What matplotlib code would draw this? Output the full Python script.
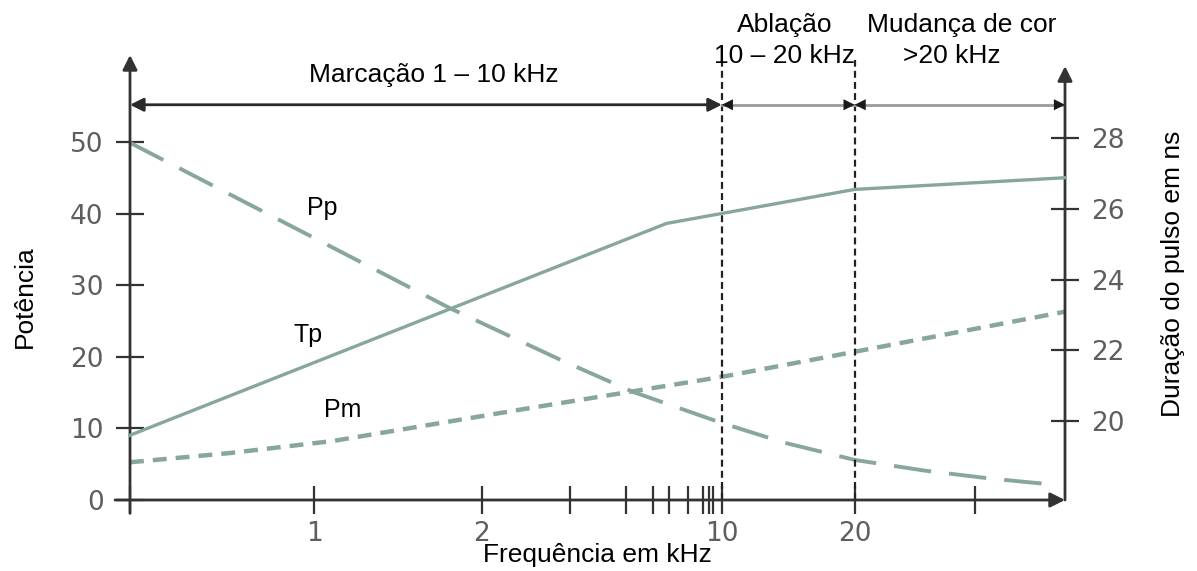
import matplotlib.pyplot as plt

plt.rcParams['font.family'] = ['Liberation Sans', 'DejaVu Sans']
plt.rcParams['lines.scale_dashes'] = False

# schematic frequency axis: position 0..100 along the axis
tick_pos = [19.7, 37.6, 63.3, 77.5]
tick_labels = ['1', '2', '10', '20']
minor_pos = [0, 47.1, 53.0, 55.9, 57.7, 59.7, 61.3, 61.9, 62.4, 90.4]

# Pp - peak power (left axis)
pp_x = [0, 34.2, 46.0, 53.8, 63.3, 70.0, 77.5, 85.0, 92.0, 99.1]
pp_y = [49.9, 26.8, 19.6, 15.1, 10.75, 8.0, 5.6, 4.1, 3.0, 2.1]

# Pm - mean power (left axis)
pm_x = [0, 10.7, 21.7, 42.8, 63.3, 77.5, 100]
pm_y = [5.27, 6.56, 8.24, 12.85, 17.2, 20.7, 26.3]

# Tp - pulse duration in ns (right axis)
tp_x = [0, 57.4, 63.3, 77.5, 100]
tp_y = [19.6, 25.59, 25.87, 26.55, 26.88]

left_ticks = [0, 10, 20, 30, 40, 50]
right_ticks = [20, 22, 24, 26, 28]

zone_edges = [0, 63.3, 77.5, 100]

curve_color = '#87a69d'
axis_color = '#333333'
tick_color = '#5e5e5e'
tick_font = dict(family='DejaVu Sans', size=19)

fig = plt.figure(figsize=(11.97, 5.71), dpi=100)
ax = fig.add_axes([130 / 1197, 71 / 571, 935 / 1197, 445 / 571])
ax2 = ax.twinx()

ax.set_xlim(0, 100)
ax.set_ylim(0, 62.15)
ax2.set_ylim(17.77, 30.35)

for a in (ax, ax2):
    for s in a.spines.values():
        s.set_visible(False)

ax.set_xticks(tick_pos, tick_labels, fontdict=tick_font)
ax.set_xticks(minor_pos, minor=True)
ax.set_yticks(left_ticks, [str(v) for v in left_ticks], fontdict=tick_font)
ax2.set_yticks(right_ticks, [str(v) for v in right_ticks], fontdict=tick_font)

ax.tick_params(axis='both', which='both', direction='inout', length=20, width=1.6,
               color=axis_color, labelcolor=tick_color)
ax.tick_params(axis='x', pad=5)
ax.tick_params(axis='y', pad=9)
ax2.tick_params(axis='y', direction='inout', length=20, width=1.6,
                color=axis_color, labelcolor=tick_color, pad=9)

# axis lines with arrows
arrow_kw = dict(arrowstyle='-|>', color=axis_color, lw=2, mutation_scale=22,
                shrinkA=0, shrinkB=0)
ax.annotate('', xy=(0, 1.0), xytext=(0, -0.03), xycoords='axes fraction',
            arrowprops=arrow_kw)
ax.annotate('', xy=(1.0, 0), xytext=(-0.016, 0), xycoords='axes fraction',
            arrowprops=arrow_kw)
ax.annotate('', xy=(1.0, 0.975), xytext=(1.0, 0), xycoords='axes fraction',
            arrowprops=arrow_kw)

# curves
ax.plot(pp_x, pp_y, color=curve_color, lw=2.8, dashes=(27, 13), clip_on=False)
ax.plot(pm_x, pm_y, color=curve_color, lw=3.2, dashes=(10, 6.5), clip_on=False)
ax2.plot(tp_x, tp_y, color=curve_color, lw=2.4, clip_on=False)

ax.text(20.6, 40.8, 'Pp', fontsize=18, ha='center', va='center')
ax.text(19.0, 23.0, 'Tp', fontsize=18, ha='center', va='center')
ax.text(22.8, 12.6, 'Pm', fontsize=18, ha='center', va='center')

# zone boundaries
for xe in zone_edges[1:3]:
    ax.plot([xe, xe], [0, 61.5], color='#222222', lw=1.6, dashes=(5, 3))

# zone arrows
arrow_y = 55.2
ax.annotate('', xy=(zone_edges[1], arrow_y), xytext=(zone_edges[0], arrow_y),
            arrowprops=dict(arrowstyle='<|-|>', color='#2a2a2a', lw=2,
                            mutation_scale=20, shrinkA=0, shrinkB=0))
for x0, x1 in zip(zone_edges[1:3], zone_edges[2:4]):
    ax.plot([x0, x1], [arrow_y, arrow_y], color='#9a9a9a', lw=2)
    for xa, xb in ((x0 + 2.5, x0), (x1 - 2.5, x1)):
        ax.annotate('', xy=(xb, arrow_y), xytext=(xa, arrow_y),
                    arrowprops=dict(arrowstyle='-|>', color='#1a1a1a', lw=0,
                                    mutation_scale=20, shrinkA=0, shrinkB=0))

ax.text(32.5, 58.4, 'Marcação 1 – 10 kHz', fontsize=19, ha='center', va='baseline')
ax.text(70.0, 65.3, 'Ablação', fontsize=19, ha='center', va='baseline')
ax.text(70.0, 61.0, '10 – 20 kHz', fontsize=19, ha='center', va='baseline')
ax.text(88.9, 65.3, 'Mudança de cor', fontsize=19, ha='center', va='baseline')
ax.text(87.9, 61.0, '>20 kHz', fontsize=19, ha='center', va='baseline')

fig.text(597 / 1197, 1 - 555 / 571, 'Frequência em kHz', fontsize=19,
         ha='center', va='center')
fig.text(25 / 1197, 1 - 297 / 571, 'Potência', fontsize=19, rotation=90,
         ha='center', va='center')
fig.text(1173 / 1197, 1 - 274 / 571, 'Duração do pulso em ns', fontsize=19,
         rotation=90, ha='center', va='center')

fig.savefig('out.png', dpi=100)
